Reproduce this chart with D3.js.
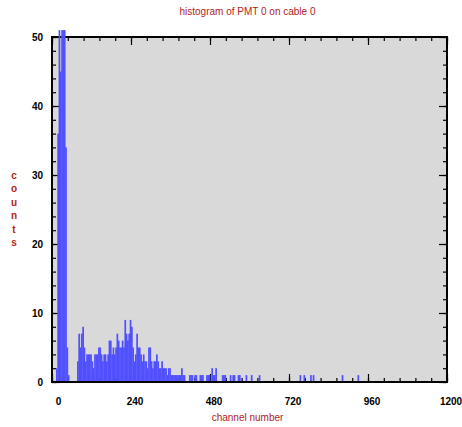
<!DOCTYPE html>
<html>
<head>
<meta charset="utf-8">
<script src="https://cdn.jsdelivr.net/npm/d3@7"></script>
<style>
  body { margin: 0; background: #fff; }
  text { font-family: "Liberation Sans", Arial, sans-serif; }
</style>
</head>
<body>
<svg id="chart" width="462" height="427"></svg>
<script>
// histogram bins, 4 channels per bin, first bin = 3 (channel 12)
const binWidth = 4;
const firstBin = 3;
const counts = [
  2, 36, 60, 45, 80, 80, 70, 34, 5, 1,
  0, 0, 0, 0, 0, 0,
  3, 7, 5, 7, 8, 5, 3, 4, 4, 4,
  4, 3, 2, 4, 4, 4, 5, 5, 4, 3,
  4, 4, 3, 4, 6, 6, 4, 5, 4, 5,
  7, 6, 5, 5, 6, 5, 9, 7, 6, 7,
  9, 8, 5, 3, 4, 7, 5, 5, 4, 3,
  4, 3, 3, 2, 5, 5, 3, 2, 3, 3,
  4, 3, 2, 2, 3, 2, 2, 2, 1, 2,
  2, 1, 1, 1, 1, 1, 1, 1, 1, 2,
  1, 1, 0, 0, 0, 1, 1, 1, 0, 1,
  1
];
// sparse tail, bin index and count
const tailBins = [112, 113, 114, 117, 118, 119, 121, 122, 123, 124, 129, 130, 131, 135, 137, 138, 141, 142, 147, 151, 157, 188, 191, 196, 198, 220, 232];
const tailCounts = [1, 1, 1, 1, 1, 1, 2, 1, 1, 2, 1, 1, 1, 1, 1, 1, 1, 1, 1, 1, 1, 1, 1, 1, 1, 1, 1];

const xMajor = [0, 240, 480, 720, 960, 1200];
const yMajor = [0, 10, 20, 30, 40, 50];

const titleText = "histogram of PMT 0 on cable 0";
const xTitle = "channel number";
const yTitle = "counts";

let svg = d3.select("#chart");
const margin = {top: 37, left: 52, right: 15, bottom: 45};
const W = 462 - margin.left - margin.right;
const H = 427 - margin.top - margin.bottom;

const xScale = d3.scaleLinear().domain([0, 1200]).range([0, W]);
const yScale = d3.scaleLinear().domain([0, 50]).range([H, 0]);

let data = counts.map((c, i) => ({bin: firstBin + i, n: c}));
tailBins.forEach((b, i) => data.push({bin: b, n: tailCounts[i]}));
data = data.filter(d => d.n > 0);

const g = svg.append("g").attr("transform", `translate(${margin.left},${margin.top})`);

g.append("rect")
  .attr("width", W).attr("height", H)
  .attr("fill", "#d9d9d9");

// ticks
const minorX = d3.range(0, 1201, 48);
const minorY = d3.range(0, 51, 2);

g.append("g").attr("transform", `translate(0,${H})`)
  .call(d3.axisBottom(xScale).tickValues(minorX).tickSize(-4).tickFormat(""));
g.append("g")
  .call(d3.axisTop(xScale).tickValues(minorX).tickSize(-4).tickFormat(""));
g.append("g")
  .call(d3.axisTop(xScale).tickValues(xMajor).tickSize(-8).tickFormat(""));
let xAx = g.append("g").attr("transform", `translate(0,${H})`)
  .call(d3.axisBottom(xScale).tickValues(xMajor).tickSize(-8).tickPadding(16).tickFormat(d3.format("d")));
xAx.selectAll("text").attr("x", d => d == 0 ? 6 : 3.5);

g.append("g").call(d3.axisLeft(yScale).tickValues(minorY).tickSize(-4).tickFormat(""));
g.append("g").attr("transform", `translate(${W},0)`)
  .call(d3.axisRight(yScale).tickValues(minorY).tickSize(-4).tickFormat(""));
g.append("g").attr("transform", `translate(${W},0)`)
  .call(d3.axisRight(yScale).tickValues(yMajor).tickSize(-8).tickFormat(""));
g.append("g")
  .call(d3.axisLeft(yScale).tickValues(yMajor).tickSize(-8).tickPadding(9));

g.selectAll(".domain").remove();
g.selectAll(".tick line").attr("stroke", "#000").attr("stroke-width", 1.2);
g.selectAll(".tick text")
  .attr("font-size", 10).attr("font-weight", "bold").attr("fill", "#000");

// frame
g.append("rect")
  .attr("width", W).attr("height", H)
  .attr("fill", "none").attr("stroke", "#000").attr("stroke-width", 2);

// bars
const yTop = yScale(51);
g.append("g").selectAll("rect").data(data)
  .enter().append("rect")
    .attr("x", d => xScale(d.bin * binWidth))
    .attr("width", d => xScale((d.bin + 1) * binWidth) - xScale(d.bin * binWidth) + 0.4)
    .attr("y", d => Math.max(yScale(d.n), yTop))
    .attr("height", d => H - 1 - Math.max(yScale(d.n), yTop))
    .attr("fill", "#5050ff");

// labels
svg.append("text")
  .attr("x", 247.5).attr("y", 15)
  .attr("text-anchor", "middle")
  .attr("font-size", 10).attr("fill", "#b22222")
  .text(titleText);

svg.append("text")
  .attr("x", 247.5).attr("y", 421)
  .attr("text-anchor", "middle")
  .attr("font-size", 10).attr("fill", "#b22222")
  .text(xTitle);

svg.append("g").selectAll("text").data(yTitle.split(""))
  .enter().append("text")
    .attr("x", 14).attr("y", (d, i) => 179 + i * 13.4)
    .attr("text-anchor", "middle")
    .attr("font-size", 10).attr("font-weight", "bold").attr("fill", "#b22222")
    .text(d => d);
</script>
</body>
</html>
